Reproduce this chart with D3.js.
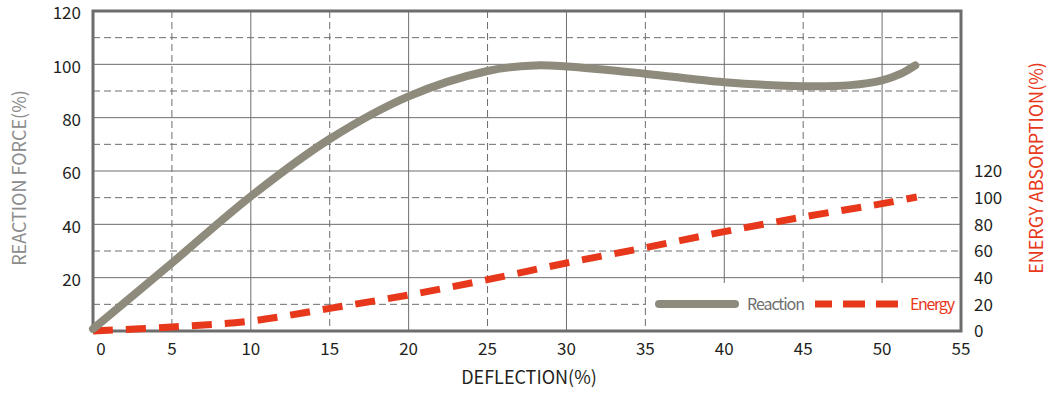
<!DOCTYPE html>
<html>
<head>
<meta charset="utf-8">
<title>Reaction / Energy</title>
<style>
    body { margin: 0; background: #fff; }
    text { font-family: "Noto Sans CJK KR", "Noto Sans", sans-serif; }
</style>
</head>
<body>
<script src="https://cdn.jsdelivr.net/npm/d3@7"></script>
<script>
// values
var reactionX = [0, 5, 10, 15, 20, 25, 28, 30, 35, 40, 45, 48, 50, 51.2, 52.1];
var reactionY = [0.8, 25.5, 50.5, 72, 88, 97.5, 99.6, 99.2, 96.5, 93.3, 91.8, 92.2, 94, 96.5, 99.6];
var energyX = [0, 5, 10, 15, 20, 25, 30, 35, 40, 45, 50, 52.2];
var energyY = [0, 3, 7.5, 17, 27, 38.5, 51, 62.5, 74.5, 85.5, 95.5, 100.5];
var xTicks = [0, 5, 10, 15, 20, 25, 30, 35, 40, 45, 50, 55];
var leftTicks = [20, 40, 60, 80, 100, 120];
var rightTicks = [0, 20, 40, 60, 80, 100, 120];

var width = 1056, height = 394;
var plotL = 93, plotR = 961, plotT = 11, plotB = 331;

var svg = d3.select("body").append("svg")
    .attr("width", width)
    .attr("height", height);

var x = d3.scaleLinear().domain([0, 55]).range([plotL, plotR]);
var y = d3.scaleLinear().domain([0, 120]).range([plotB, plotT]);
var y2 = d3.scaleLinear().domain([0, 240]).range([plotB, plotT]);

var gridColor = "#6d6d6d";

// vertical grid lines
svg.append("g").selectAll("line")
    .data(d3.range(5, 55, 5))
    .enter().append("line")
    .attr("x1", function (d) { return x(d); })
    .attr("x2", function (d) { return x(d); })
    .attr("y1", plotT).attr("y2", plotB)
    .attr("stroke", gridColor)
    .attr("stroke-width", 1)
    .attr("stroke-dasharray", function (d) { return d % 10 ? "7,4" : null; });

// horizontal grid lines
svg.append("g").selectAll("line")
    .data(d3.range(10, 120, 10))
    .enter().append("line")
    .attr("y1", function (d) { return y(d); })
    .attr("y2", function (d) { return y(d); })
    .attr("x1", plotL).attr("x2", plotR)
    .attr("stroke", gridColor)
    .attr("stroke-width", 1)
    .attr("stroke-dasharray", function (d) { return d % 20 ? "7,4" : null; });

// legend background hides the grid
svg.append("rect")
    .attr("x", 646).attr("y", 283)
    .attr("width", plotR - 646).attr("height", plotB - 283)
    .attr("fill", "#fff");

// frame
svg.append("rect")
    .attr("x", plotL).attr("y", plotT)
    .attr("width", plotR - plotL).attr("height", plotB - plotT)
    .attr("fill", "none")
    .attr("stroke", gridColor)
    .attr("stroke-width", 3);

// tick labels
svg.append("g").selectAll("text")
    .data(leftTicks)
    .enter().append("text")
    .attr("x", 81)
    .attr("y", function (d) { return y(d) + 2; })
    .attr("dy", "0.38em")
    .attr("text-anchor", "end")
    .attr("font-size", 17)
    .attr("fill", "#231f20")
    .text(function (d) { return d; });

svg.append("g").selectAll("text")
    .data(rightTicks)
    .enter().append("text")
    .attr("x", 974)
    .attr("y", function (d) { return y2(d); })
    .attr("dy", "0.38em")
    .attr("text-anchor", "start")
    .attr("font-size", 17)
    .attr("fill", "#231f20")
    .text(function (d) { return d; });

svg.append("g").selectAll("text")
    .data(xTicks)
    .enter().append("text")
    .attr("x", function (d) { return d === 0 ? x(d) + 8 : x(d); })
    .attr("y", 349)
    .attr("dy", "0.38em")
    .attr("text-anchor", "middle")
    .attr("font-size", 17)
    .attr("fill", "#231f20")
    .text(function (d) { return d; });

// axis titles
svg.append("text")
    .attr("transform", "translate(26,178) rotate(-90)")
    .attr("text-anchor", "middle")
    .attr("font-size", 18)
    .attr("fill", "#8c8c8c")
    .text("REACTION FORCE(%)");

svg.append("text")
    .attr("transform", "translate(1043,168) rotate(-90)")
    .attr("text-anchor", "middle")
    .attr("font-size", 18)
    .attr("fill", "#e8381b")
    .text("ENERGY ABSORPTION(%)");

svg.append("text")
    .attr("x", 529).attr("y", 377)
    .attr("dy", "0.38em")
    .attr("text-anchor", "middle")
    .attr("font-size", 18)
    .attr("fill", "#231f20")
    .text("DEFLECTION(%)");

// curves
var reaction = reactionX.map(function (d, i) { return [d, reactionY[i]]; });
var energy = energyX.map(function (d, i) { return [d, energyY[i]]; });

svg.append("path")
    .datum(energy)
    .attr("d", d3.line()
        .x(function (d) { return x(d[0]); })
        .y(function (d) { return y2(d[1]); })
        .curve(d3.curveCatmullRom))
    .attr("fill", "none")
    .attr("stroke", "#e8381b")
    .attr("stroke-width", 7)
    .attr("stroke-dasharray", "20,13");

svg.append("path")
    .datum(reaction)
    .attr("d", d3.line()
        .x(function (d) { return x(d[0]); })
        .y(function (d) { return y(d[1]); })
        .curve(d3.curveCatmullRom))
    .attr("fill", "none")
    .attr("stroke", "#8e8a7c")
    .attr("stroke-width", 8)
    .attr("stroke-linecap", "round")
    .attr("stroke-linejoin", "round");

// legend
var lg = svg.append("g");
lg.append("line")
    .attr("x1", 659).attr("x2", 735)
    .attr("y1", 304).attr("y2", 304)
    .attr("stroke", "#8e8a7c")
    .attr("stroke-width", 8)
    .attr("stroke-linecap", "round");
lg.append("text")
    .attr("x", 747).attr("y", 304)
    .attr("dy", "0.36em")
    .attr("font-size", 16)
    .attr("fill", "#6e6e6e")
    .attr("textLength", 58)
    .text("Reaction");
lg.append("line")
    .attr("x1", 815).attr("x2", 899)
    .attr("y1", 304).attr("y2", 304)
    .attr("stroke", "#e8381b")
    .attr("stroke-width", 7)
    .attr("stroke-dasharray", "17,11,22,11,22");
lg.append("text")
    .attr("x", 910).attr("y", 304)
    .attr("dy", "0.36em")
    .attr("font-size", 16)
    .attr("fill", "#e8381b")
    .attr("textLength", 45)
    .text("Energy");
</script>
</body>
</html>
